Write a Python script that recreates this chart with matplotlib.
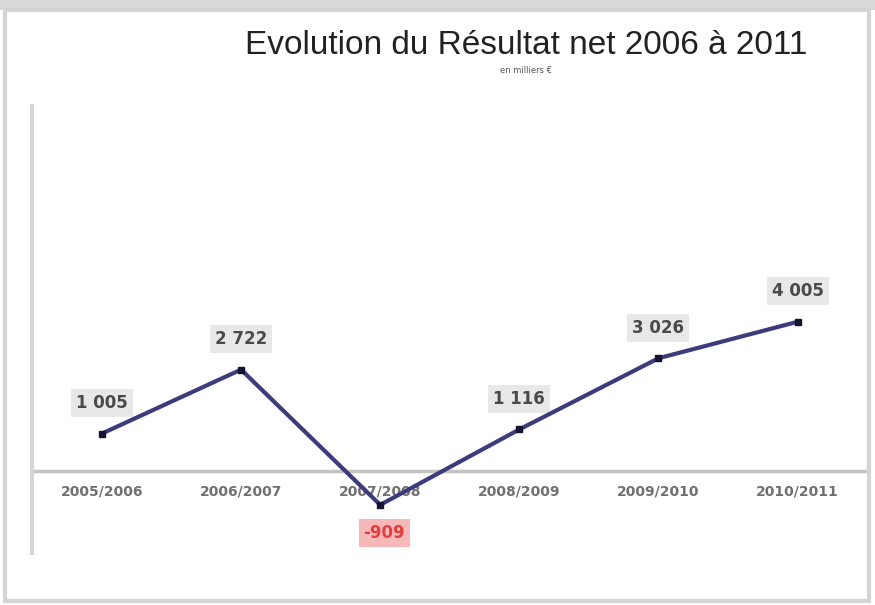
import matplotlib.pyplot as plt
from matplotlib.patches import Rectangle

# data
periods = ['2005/2006', '2006/2007', '2007/2008', '2008/2009', '2009/2010', '2010/2011']
resultat = [1005, 2722, -909, 1116, 3026, 4005]
labels = ['1 005', '2 722', '-909', '1 116', '3 026', '4 005']

fig = plt.figure(figsize=(8.75, 6.05), dpi=100)
fig.patch.set_facecolor('white')

# page strip at the top + outer frame of the chart
fig.patches.append(Rectangle((0, 0.983), 1, 0.017, transform=fig.transFigure,
                             facecolor='#d9d9d9', edgecolor='none'))
fig.patches.append(Rectangle((0.006, 0.006), 0.987, 0.977, transform=fig.transFigure,
                             facecolor='none', edgecolor='#d4d4d4', linewidth=3))

ax = fig.add_axes([0.037, 0.086, 0.954, 0.739])
x = list(range(len(periods)))
ax.plot(x, resultat, color='#3c3c7c', linewidth=3, marker='s', markersize=4,
        markerfacecolor='#141432', markeredgecolor='#141432', zorder=5)

ax.set_xlim(-0.5, len(periods) - 0.5)
ax.set_ylim(-2200, 9800)
ax.axhline(0, color='#c3c3c3', linewidth=2.5, zorder=0)

for s in ['top', 'right', 'bottom']:
    ax.spines[s].set_visible(False)
ax.spines['left'].set_color('#d6d6d6')
ax.spines['left'].set_linewidth(3)
ax.set_yticks([])
ax.set_xticks([])

# category labels under the zero line
for i, p in enumerate(periods):
    ax.annotate(p, (i, 0), xytext=(0, -15), textcoords='offset points',
                ha='center', va='center', fontsize=10, fontweight='bold',
                color='#707070')

# value labels
for i, (v, t) in enumerate(zip(resultat, labels)):
    if v < 0:
        ax.annotate(t, (i, v), xytext=(3, -20), textcoords='offset points',
                    ha='center', va='center', fontsize=12, fontweight='bold',
                    color='#e04040',
                    bbox=dict(boxstyle='square,pad=0.3', facecolor='#f6b8b8', edgecolor='none'))
    else:
        ax.annotate(t, (i, v), xytext=(0, 22), textcoords='offset points',
                    ha='center', va='center', fontsize=12, fontweight='bold',
                    color='#4a4a4a',
                    bbox=dict(boxstyle='square,pad=0.3', facecolor='#e8e8e8', edgecolor='none'))

fig.text(0.601, 0.924, 'Evolution du Résultat net 2006 à 2011', ha='center', va='center',
         fontsize=24, color='#222222', family='Liberation Sans')
fig.text(0.601, 0.884, 'en milliers €', ha='center', va='center',
         fontsize=6, color='#555555')

fig.savefig('out.png', dpi=100)
